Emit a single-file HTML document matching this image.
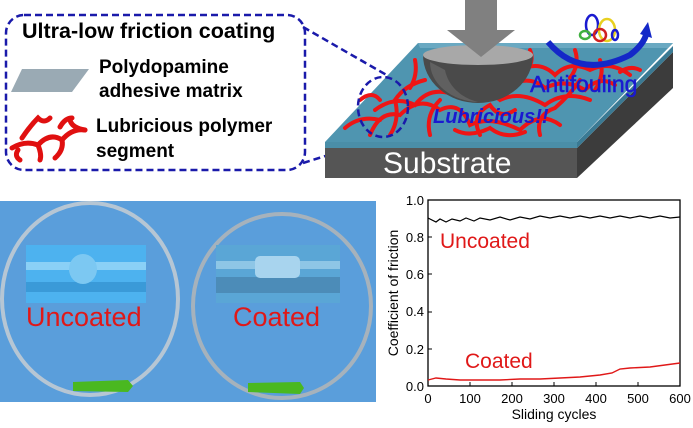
<!DOCTYPE html>
<html><head><meta charset="utf-8"><style>
html,body{margin:0;padding:0;background:#fff;}
svg{display:block;font-family:"Liberation Sans",Arial,sans-serif;}
</style></head><body>
<svg width="693" height="428" viewBox="0 0 693 428" xmlns="http://www.w3.org/2000/svg">
<!-- Top-left legend box -->
<rect x="6" y="15" width="299" height="155" rx="18" fill="#fff" stroke="#1a1aaa" stroke-width="2.5" stroke-dasharray="7,4"/>
<text x="22" y="38" font-size="21.5" font-weight="bold" fill="#000">Ultra-low friction coating</text>
<polygon points="22,69 30,69 89,69 72,92 11,92" fill="#9aaab4"/>
<text x="99" y="73" font-size="19" font-weight="bold" fill="#000">Polydopamine</text>
<text x="99" y="97" font-size="19" font-weight="bold" fill="#000">adhesive matrix</text>
<text x="96" y="132" font-size="19" font-weight="bold" fill="#000">Lubricious polymer</text>
<text x="96" y="157" font-size="19" font-weight="bold" fill="#000">segment</text>
<g stroke="#e01010" stroke-width="5" fill="none" stroke-linecap="round">
<path d="M12,148 Q25,140 38,145 Q50,132 62,140 Q72,128 85,130"/>
<path d="M22,138 Q30,126 38,118 Q44,124 50,118"/>
<path d="M38,145 Q42,155 40,160"/>
<path d="M62,140 Q64,150 55,158"/>
<path d="M70,120 Q72,128 85,130"/>
<path d="M60,127 Q65,118 72,118"/>
<path d="M18,150 Q14,156 20,160"/>
</g>
<!-- dashed connectors -->
<line x1="303" y1="27" x2="390" y2="77" stroke="#1a1aaa" stroke-width="2.5" stroke-dasharray="7,4"/>
<line x1="303" y1="163" x2="402" y2="132" stroke="#1a1aaa" stroke-width="2.5" stroke-dasharray="7,4"/>

<!-- Substrate slab -->
<polygon points="577,148 673,52 673,88 577,178" fill="#3c3c3c"/>
<polygon points="325,148 577,148 577,178 325,178" fill="#555"/>
<polygon points="325,142 577,142 577,148 325,148" fill="#4a8ea8"/>
<polygon points="577,142 673,46 673,52 577,148" fill="#3a7a94"/>
<polygon points="418,43 673,43 577,142 325,142" fill="#4f95b0"/>
<polygon points="418,43 673,43 668,48 420,48" fill="#6aa9c2"/>
<text x="383" y="173" font-size="30" fill="#fff">Substrate</text>

<!-- red polymer -->
<g stroke="#ee1515" stroke-width="4" fill="none" stroke-linecap="round">
<path d="M370,135 Q380,110 400,115 Q420,95 440,110 Q460,100 470,125 Q490,115 520,130 Q540,110 560,125"/>
<path d="M375,110 Q395,95 415,105 Q430,85 455,95 Q475,80 500,100 Q520,90 545,105 Q565,90 590,100"/>
<path d="M390,135 Q400,120 395,100 Q405,85 425,80"/>
<path d="M430,135 Q425,115 440,100"/>
<path d="M480,135 Q470,115 490,105 Q500,120 515,110"/>
<path d="M540,135 Q535,115 555,108 Q570,95 580,80"/>
<path d="M520,70 Q540,60 555,75 Q570,60 590,70 Q610,60 630,75"/>
<path d="M510,85 Q530,75 545,88 Q565,78 585,90 Q600,75 615,85"/>
<path d="M600,60 Q605,75 595,90"/>
<path d="M575,50 Q580,65 570,78"/>
<path d="M415,60 Q418,75 410,88"/>
<path d="M530,50 Q535,62 525,72"/>
<path d="M345,128 Q360,115 380,120"/>
<path d="M360,100 Q372,90 380,100"/>
<path d="M620,72 Q630,65 640,70"/>
<path d="M455,130 Q470,138 490,128 Q505,140 525,132"/>
</g>
<!-- hemisphere -->
<path d="M423,55 A55,48 0 0 0 533,55 Z" fill="#4a4a4a"/>
<path d="M430,62 A50,40 0 0 0 478,102 A45,40 0 0 1 445,70 Z" fill="#606060"/>
<ellipse cx="478" cy="55" rx="55" ry="10" fill="#a8a8a8"/>
<!-- down arrow -->
<rect x="465" y="0" width="32" height="30" fill="#808080"/>
<polygon points="447,30 515,30 481,57" fill="#808080"/>
<!-- blue circle -->
<ellipse cx="383" cy="107" rx="25" ry="30" fill="none" stroke="#1a1aaa" stroke-width="2.5" stroke-dasharray="7,4"/>
<text x="433" y="123" font-size="20" font-weight="bold" font-style="italic" fill="#1a1ad0">Lubricious!!</text>
<text x="530" y="92" font-size="23" fill="#1a1ad0" stroke="#1a1ad0" stroke-width="0.5">Antifouling</text>
<!-- antifouling arrow -->
<path d="M548,42 Q580,80 630,55 Q643,45 646,35" stroke="#1428c8" stroke-width="6" fill="none"/>
<polygon points="640,34 652,38 648,22" fill="#1428c8"/>
<g fill="none" stroke-width="2.5">
<ellipse cx="592" cy="25" rx="6" ry="10" stroke="#1a1ad0"/>
<ellipse cx="607" cy="30" rx="8" ry="11" stroke="#e8d020"/>
<ellipse cx="600" cy="35" rx="6" ry="6" stroke="#d02020"/>
<ellipse cx="585" cy="35" rx="5" ry="4" stroke="#40b040"/>
<ellipse cx="615" cy="35" rx="3" ry="5" stroke="#1a1ad0"/>
</g>

<!-- photo -->
<rect x="0" y="201" width="376" height="201" fill="#5a9edb"/>
<ellipse cx="90" cy="299" rx="88" ry="96" fill="none" stroke="#b6c6d4" stroke-width="4"/>
<ellipse cx="282" cy="306" rx="89" ry="92" fill="none" stroke="#a6b2bc" stroke-width="4"/>
<rect x="26" y="245" width="120" height="58" fill="#4db2ef"/>
<rect x="26" y="262" width="120" height="8" fill="#8ad0f6"/>
<rect x="26" y="282" width="120" height="10" fill="#3a9ad8"/>
<ellipse cx="83" cy="269" rx="14" ry="15" fill="#7cc8f2"/>
<rect x="216" y="245" width="124" height="58" fill="#5aa6d6"/>
<rect x="216" y="261" width="124" height="8" fill="#8ec6e6"/>
<rect x="216" y="277" width="124" height="16" fill="#4c8cb8"/>
<rect x="255" y="256" width="45" height="22" rx="5" fill="#a8d4ee"/>
<text x="26" y="326" font-size="27" fill="#e01818">Uncoated</text>
<text x="233" y="326" font-size="27" fill="#e01818">Coated</text>
<polygon points="73,382 128,380 133,386 128,392 73,391" fill="#4ab820"/>
<polygon points="248,383 300,382 304,388 300,394 248,392" fill="#4ab820"/>

<!-- chart -->
<rect x="428" y="200" width="252" height="186" fill="#fff" stroke="#000" stroke-width="1.3"/>
<g font-size="13" fill="#000" text-anchor="end">
<text x="424" y="205">1.0</text><text x="424" y="242">0.8</text><text x="424" y="279">0.6</text><text x="424" y="316">0.4</text><text x="424" y="354">0.2</text><text x="424" y="391">0.0</text>
</g>
<g font-size="13" fill="#000" text-anchor="middle">
<text x="428" y="403">0</text><text x="470" y="403">100</text><text x="512" y="403">200</text><text x="554" y="403">300</text><text x="596" y="403">400</text><text x="638" y="403">500</text><text x="680" y="403">600</text>
</g>
<text x="554" y="419" font-size="14" text-anchor="middle">Sliding cycles</text>
<text transform="translate(398,293) rotate(-90)" font-size="14" text-anchor="middle">Coefficient of friction</text>
<g stroke="#000" stroke-width="1">
<line x1="428" y1="237" x2="432" y2="237"/><line x1="428" y1="274" x2="432" y2="274"/><line x1="428" y1="312" x2="432" y2="312"/><line x1="428" y1="349" x2="432" y2="349"/>
<line x1="470" y1="386" x2="470" y2="382"/><line x1="512" y1="386" x2="512" y2="382"/><line x1="554" y1="386" x2="554" y2="382"/><line x1="596" y1="386" x2="596" y2="382"/><line x1="638" y1="386" x2="638" y2="382"/>
</g>
<path d="M428,218 L436,222 L440,219 L446,222 L452,219 L460,221 L466,218 L474,221 L480,218 L490,220 L500,217 L510,220 L520,217 L530,219 L540,216 L550,218 L560,216 L570,218 L580,216 L590,218 L600,216 L610,218 L620,216 L630,218 L640,216 L650,218 L660,216 L670,218 L680,217" fill="none" stroke="#000" stroke-width="1.2"/>
<path d="M428,380 L436,378 L446,379 L460,380 L480,380 L500,380 L520,379 L540,379 L560,378 L580,377 L600,375 L612,373 L620,369 L630,368 L650,367 L665,365 L680,363" fill="none" stroke="#e01818" stroke-width="1.4"/>
<text x="440" y="248" font-size="21" fill="#e01818">Uncoated</text>
<text x="465" y="368" font-size="21" fill="#e01818">Coated</text>
</svg>
</body></html>
